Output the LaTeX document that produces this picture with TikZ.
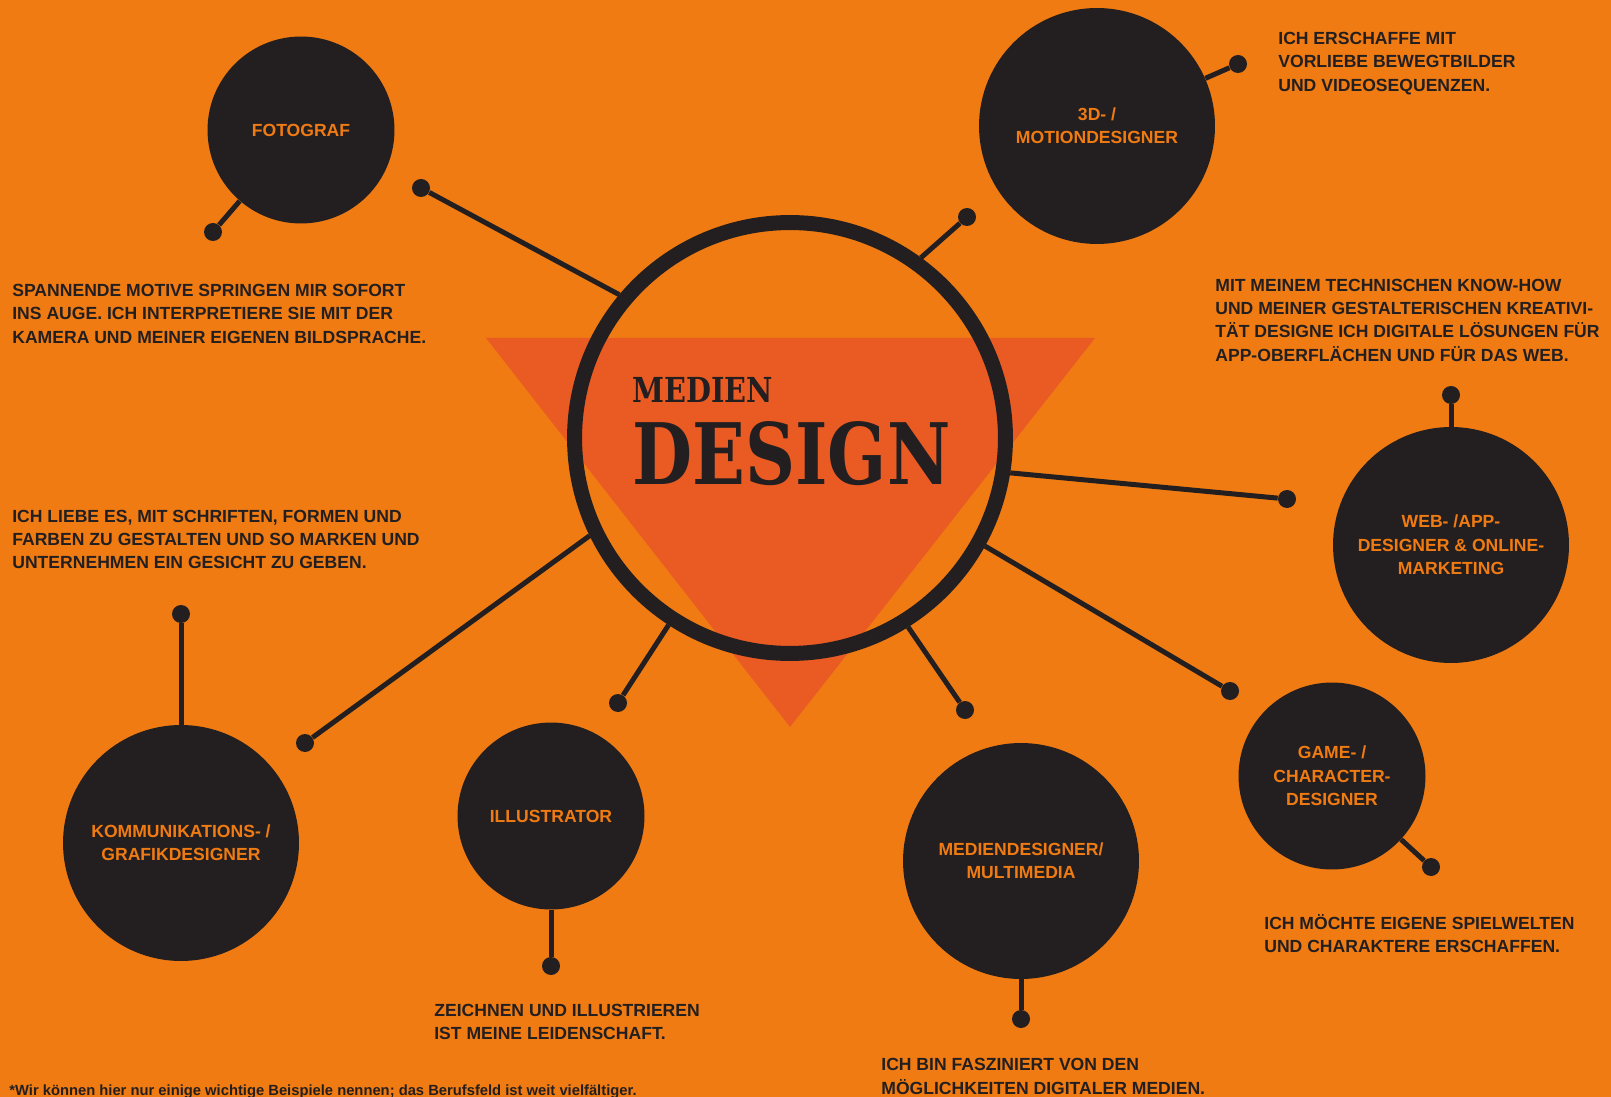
\documentclass[tikz,border=0pt]{standalone}
\usepackage{fontspec}
\usepackage{graphicx}
\setmainfont{Liberation Sans}
\newfontfamily\slabfont{DejaVu Serif}
\definecolor{bgorange}{HTML}{F07B12}
\definecolor{triorange}{HTML}{EA5B24}
\definecolor{ink}{HTML}{231F20}

\begin{document}
\begin{tikzpicture}[
    x=0.02cm, y=-0.02cm,
    hub/.style={circle, draw=ink, line width=0.3cm, minimum size=8.62cm, inner sep=0pt},
    satS/.style={circle, fill=ink, minimum size=3.74cm, inner sep=0pt, align=center,
                 text=bgorange, font=\bfseries\fontsize{10}{13.3}\selectfont},
    satL/.style={satS, minimum size=4.72cm},
    pin/.style={circle, fill=ink, minimum size=0.36cm, inner sep=0pt},
    link/.style={draw=ink, line width=0.1cm},
    blurb/.style={anchor=base west, inner sep=0pt, align=left, text=ink,
                  font=\bfseries\fontsize{10}{13.3}\selectfont}
]

\useasboundingbox (0,0) rectangle (1611,1097);
\fill[bgorange] (0,0) rectangle (1611,1097);

% triangle behind the ring
\fill[triorange] (486,338) -- (1095,338) -- (790,727) -- cycle;

\node[hub] (hub) at (790,438) {};
\node[anchor=base west, inner sep=0pt, text=ink] (medien) at (632,403)
  {\slabfont\bfseries\fontsize{19.6}{20}\selectfont\scalebox{0.837}[1]{MEDIEN}};
\node[anchor=base west, inner sep=0pt, text=ink] (design) at (632,484)
  {\slabfont\bfseries\fontsize{48.3}{49}\selectfont\scalebox{0.817}[1]{DESIGN}};

% job circles
\node[satS] (foto)   at (301,130)  {FOTOGRAF};
\node[satL] (motion) at (1097,126) {3D- /\\MOTIONDESIGNER};
\node[satL] (web)    at (1451,545) {WEB- /APP-\\DESIGNER \& ONLINE-\\MARKETING};
\node[satS] (game)   at (1332,776) {GAME- /\\CHARACTER-\\DESIGNER};
\node[satL] (multi)  at (1021,861) {MEDIENDESIGNER/\\MULTIMEDIA};
\node[satS] (illu)   at (551,816)  {ILLUSTRATOR};
\node[satL] (komm)   at (181,843)  {KOMMUNIKATIONS- /\\GRAFIKDESIGNER};

% dots next to the circles
\node[pin] (foto-pin)   at (213,232)  {};
\node[pin] (motion-pin) at (1238,64)  {};
\node[pin] (web-pin)    at (1451,395) {};
\node[pin] (game-pin)   at (1431,867) {};
\node[pin] (multi-pin)  at (1021,1019) {};
\node[pin] (illu-pin)   at (551,966)  {};
\node[pin] (komm-pin)   at (181,614)  {};

% dots linked to the hub
\node[pin] (foto-dot)   at (421,188) {};
\node[pin] (motion-dot) at (967,217) {};
\node[pin] (web-dot)    at (1287,499) {};
\node[pin] (game-dot)   at (1230,691) {};
\node[pin] (multi-dot)  at (965,710) {};
\node[pin] (illu-dot)   at (618,703) {};
\node[pin] (komm-dot)   at (305,743) {};

\foreach \n/\a in {foto/140, motion/54, web/351, game/331, multi/302, illu/237, komm/206}
  \draw[link] (\n-dot) -- (hub.\a);
\foreach \n in {foto, motion, web, game, multi, illu, komm}
  \draw[link] (\n) -- (\n-pin);

% texts (base = last line)
\node[blurb] (foto-text) at (12,343.3)
  {SPANNENDE MOTIVE SPRINGEN MIR SOFORT\\INS AUGE. ICH INTERPRETIERE SIE MIT DER\\KAMERA UND MEINER EIGENEN BILDSPRACHE.};
\node[blurb] (motion-text) at (1278,91.3)
  {ICH ERSCHAFFE MIT\\VORLIEBE BEWEGTBILDER\\UND VIDEOSEQUENZEN.};
\node[blurb] (web-text) at (1215,361.2)
  {MIT MEINEM TECHNISCHEN KNOW-HOW\\UND MEINER GESTALTERISCHEN KREATIVI-\\TÄT DESIGNE ICH DIGITALE LÖSUNGEN FÜR\\APP-OBERFLÄCHEN UND FÜR DAS WEB.};
\node[blurb] (game-text) at (1264,952.4)
  {ICH MÖCHTE EIGENE SPIELWELTEN\\UND CHARAKTERE ERSCHAFFEN.};
\node[blurb] (multi-text) at (881,1094)
  {ICH BIN FASZINIERT VON DEN\\MÖGLICHKEITEN DIGITALER MEDIEN.};
\node[blurb] (illu-text) at (434,1039.9)
  {ZEICHNEN UND ILLUSTRIEREN\\IST MEINE LEIDENSCHAFT.};
\node[blurb] (komm-text) at (12,568.8)
  {ICH LIEBE ES, MIT SCHRIFTEN, FORMEN UND\\FARBEN ZU GESTALTEN UND SO MARKEN UND\\UNTERNEHMEN EIN GESICHT ZU GEBEN.};

\node[anchor=base west, inner sep=0pt, text=ink, font=\bfseries\fontsize{8.4}{10}\selectfont] (note) at (9,1095)
  {*Wir können hier nur einige wichtige Beispiele nennen; das Berufsfeld ist weit vielfältiger.};

\end{tikzpicture}
\end{document}
